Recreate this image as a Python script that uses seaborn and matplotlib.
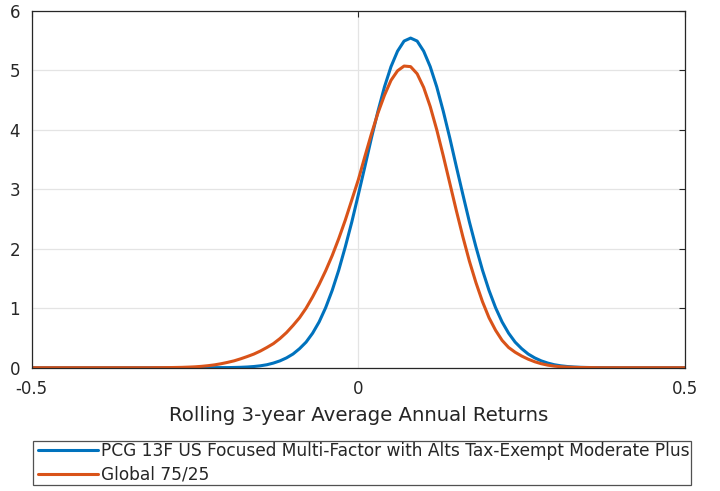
import matplotlib
matplotlib.use("Agg")
import matplotlib.pyplot as plt
from matplotlib.legend_handler import HandlerLine2D
from matplotlib.lines import Line2D
import pandas as pd
import seaborn as sns

# Sample positions of the rolling 3-year average annual return
returns = [
    -0.50,
    -0.32, -0.31, -0.30, -0.29, -0.28, -0.27, -0.26, -0.25, -0.24, -0.23,
    -0.22, -0.21, -0.20, -0.19, -0.18, -0.17, -0.16, -0.15, -0.14, -0.13,
    -0.12, -0.11, -0.10, -0.09, -0.08, -0.07, -0.06, -0.05, -0.04, -0.03,
    -0.02, -0.01, 0.00, 0.01, 0.02, 0.03, 0.04, 0.05, 0.06, 0.07,
    0.08, 0.09, 0.10, 0.11, 0.12, 0.13, 0.14, 0.15, 0.16, 0.17,
    0.18, 0.19, 0.20, 0.21, 0.22, 0.23, 0.24, 0.25, 0.26, 0.27,
    0.28, 0.29, 0.30, 0.31, 0.32, 0.33, 0.34, 0.35, 0.36, 0.37,
    0.38, 0.39, 0.40,
    0.50,
]

# Estimated density of the PCG 13F portfolio
pcg_density = [
    0.000,
    0.000, 0.000, 0.000, 0.000, 0.000, 0.000, 0.000, 0.000, 0.000, 0.001,
    0.001, 0.002, 0.002, 0.004, 0.007, 0.012, 0.020, 0.032, 0.050, 0.078,
    0.115, 0.165, 0.23, 0.32, 0.43, 0.58, 0.77, 1.01, 1.30, 1.64,
    2.03, 2.45, 2.91, 3.38, 3.86, 4.31, 4.72, 5.06, 5.32, 5.49,
    5.54, 5.49, 5.32, 5.06, 4.72, 4.31, 3.86, 3.38, 2.91, 2.45,
    2.03, 1.64, 1.30, 1.01, 0.77, 0.58, 0.43, 0.32, 0.23, 0.165,
    0.115, 0.078, 0.050, 0.032, 0.020, 0.012, 0.007, 0.004, 0.002, 0.002,
    0.001, 0.001, 0.000,
    0.000,
]

# Estimated density of the Global 75/25 benchmark
global_density = [
    0.000,
    0.000, 0.001, 0.001, 0.002, 0.004, 0.006, 0.010, 0.015, 0.023, 0.034,
    0.048, 0.067, 0.090, 0.116, 0.150, 0.188, 0.229, 0.28, 0.34, 0.405,
    0.49, 0.59, 0.71, 0.84, 1.00, 1.19, 1.40, 1.63, 1.885, 2.17,
    2.48, 2.82, 3.16, 3.55, 3.93, 4.28, 4.58, 4.83, 4.99, 5.07,
    5.06, 4.94, 4.71, 4.39, 4.00, 3.56, 3.10, 2.64, 2.20, 1.79,
    1.43, 1.11, 0.84, 0.63, 0.46, 0.34, 0.26, 0.196, 0.143, 0.100,
    0.067, 0.043, 0.027, 0.016, 0.010, 0.006, 0.003, 0.002, 0.001, 0.000,
    0.000, 0.000, 0.000,
    0.000,
]

series_names = [
    "PCG 13F US Focused Multi-Factor with Alts Tax-Exempt Moderate Plus",
    "Global 75/25",
]
x_ticks = [-0.5, 0, 0.5]
x_tick_labels = ["-0.5", "0", "0.5"]
y_ticks = [0, 1, 2, 3, 4, 5, 6]
x_label = "Rolling 3-year Average Annual Returns"

line_colors = ["#0072BD", "#D95319"]
ink = "#262626"

sns.set_theme(style="whitegrid")
plt.rcParams["font.family"] = ["DejaVu Sans"]

df = pd.concat(
    [
        pd.DataFrame({"ret": returns, "density": pcg_density, "series": series_names[0]}),
        pd.DataFrame({"ret": returns, "density": global_density, "series": series_names[1]}),
    ],
    ignore_index=True,
)

fig = plt.figure(figsize=(7.2, 4.91), dpi=100, facecolor="white")
ax = fig.add_axes([0.044, 0.2511, 0.9074, 0.7271])
ax.set_facecolor("white")

sns.lineplot(
    data=df, x="ret", y="density", hue="series", hue_order=series_names,
    palette=line_colors, linewidth=2.2, estimator=None, sort=False,
    legend=False, ax=ax,
)

ax.set_xlim(-0.5, 0.5)
ax.set_ylim(0, 6)
ax.set_xticks(x_ticks)
ax.set_xticklabels(x_tick_labels)
ax.set_yticks(y_ticks)
ax.set_xlabel(x_label, fontsize=14.2, color=ink, labelpad=5.4)
ax.set_ylabel("")

ax.grid(True, color="#e4e4e4", linewidth=0.9)
for side in ["left", "right", "top", "bottom"]:
    ax.spines[side].set_visible(True)
    ax.spines[side].set_color(ink)
    ax.spines[side].set_linewidth(0.9)

ax.tick_params(axis="both", direction="in", length=4.5, width=0.8, color=ink,
               labelcolor=ink, labelsize=12, top=True, right=True)
ax.tick_params(axis="x", pad=9)
ax.tick_params(axis="y", pad=8.4)

handles = ax.get_lines()[:2]
leg = fig.legend(
    handles, series_names, loc="upper left",
    bbox_to_anchor=(32.7 / 720, 1 - 440.5 / 491),
    fontsize=12.25, frameon=True, fancybox=False, edgecolor=ink,
    handlelength=3.75, handletextpad=0.2, borderpad=0.06, labelspacing=0.38,
    borderaxespad=0,
    handler_map={Line2D: HandlerLine2D(xpad=0.25)},
)
leg.get_frame().set_linewidth(0.9)
for t in leg.get_texts():
    t.set_color(ink)

fig.savefig("out.png", dpi=100, facecolor="white")
